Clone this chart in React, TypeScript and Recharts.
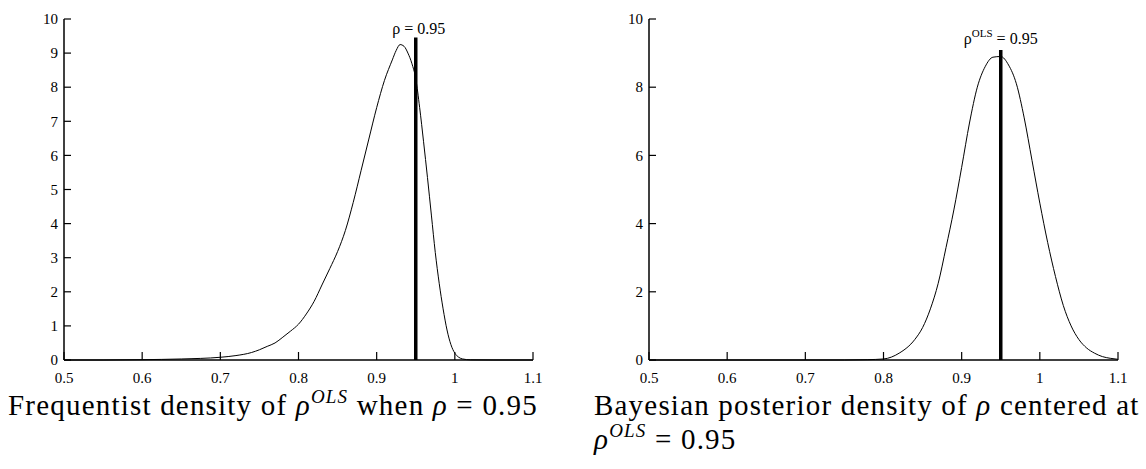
import React from 'react';
import { LineChart, Line, XAxis, YAxis, ReferenceLine } from 'recharts';

const xTicks = [0.5, 0.6, 0.7, 0.8, 0.9, 1, 1.1];
const freqYTicks = [0, 1, 2, 3, 4, 5, 6, 7, 8, 9, 10];
const postYTicks = [0, 2, 4, 6, 8, 10];

// frequentist density of rho^OLS when rho = 0.95
const freqRho = [
  0.5, 0.55, 0.6, 0.65, 0.7, 0.72, 0.74, 0.75, 0.76, 0.77, 0.78, 0.79, 0.8, 0.81, 0.82, 0.83,
  0.84, 0.85, 0.86, 0.87, 0.88, 0.89, 0.9, 0.91, 0.92, 0.925, 0.93, 0.935, 0.94, 0.945, 0.95,
  0.955, 0.96, 0.965, 0.97, 0.975, 0.98, 0.985, 0.99, 0.995, 1.0, 1.005, 1.01, 1.02, 1.05, 1.1,
];
const freqDensity = [
  0, 0, 0.01, 0.03, 0.08, 0.13, 0.22, 0.3, 0.4, 0.5, 0.67, 0.85, 1.05, 1.35, 1.72, 2.2,
  2.68, 3.18, 3.8, 4.62, 5.55, 6.48, 7.4, 8.2, 8.8, 9.08, 9.25, 9.2, 9.0, 8.7, 8.25,
  7.4, 6.4, 5.35, 4.25, 3.15, 2.25, 1.5, 0.88, 0.45, 0.2, 0.08, 0.03, 0.005, 0, 0,
];

// bayesian posterior density of rho centered at rho^OLS = 0.95
const postRho = [
  0.5, 0.6, 0.7, 0.75, 0.78, 0.8, 0.82, 0.84, 0.85, 0.86, 0.87, 0.88, 0.89, 0.9, 0.91, 0.92,
  0.93, 0.94, 0.95, 0.96, 0.97, 0.98, 0.99, 1.0, 1.01, 1.02, 1.03, 1.04, 1.05, 1.06, 1.07,
  1.08, 1.09, 1.1,
];
const postDensity = [
  0, 0, 0, 0, 0.01, 0.03, 0.2, 0.6, 0.95, 1.5, 2.25, 3.3, 4.4, 5.65, 6.95, 8.0,
  8.6, 8.88, 8.9, 8.65, 8.1, 7.1, 5.85, 4.6, 3.45, 2.45, 1.6, 1.0, 0.6, 0.35, 0.2,
  0.1, 0.05, 0.02,
];

const freqData = freqRho.map((rho, i) => ({ rho, density: freqDensity[i] }));
const postData = postRho.map((rho, i) => ({ rho, density: postDensity[i] }));

const serif = '"Liberation Serif", "Times New Roman", serif';

// ticks point inward, like the original plot
const XTick = (props: any) => {
  const { x, y, payload } = props;
  return (
    <g>
      <line x1={x} y1={y} x2={x} y2={y - 8} stroke="#000" strokeWidth={1.2} />
      <text x={x} y={y + 23} textAnchor="middle" fontSize={15} fontFamily={serif} fill="#000">
        {payload.value}
      </text>
    </g>
  );
};

const YTick = (props: any) => {
  const { x, y, payload } = props;
  return (
    <g>
      <line x1={x} y1={y} x2={x + 7} y2={y} stroke="#000" strokeWidth={1.2} />
      <text x={x - 6} y={y} dy="0.35em" textAnchor="end" fontSize={15} fontFamily={serif} fill="#000">
        {payload.value}
      </text>
    </g>
  );
};

const RhoLabel = (props: any) => {
  const { x, y } = props.viewBox;
  return (
    <text x={x + 3} y={y - 3} textAnchor="middle" fontSize={16} fontFamily={serif} fill="#000">
      ρ = 0.95
    </text>
  );
};

const RhoOlsLabel = (props: any) => {
  const { x, y } = props.viewBox;
  return (
    <text x={x} y={y - 6} textAnchor="middle" fontSize={16} fontFamily={serif} fill="#000">
      <tspan>ρ</tspan>
      <tspan dy={-7} fontSize={11}>OLS</tspan>
      <tspan dy={7}> = 0.95</tspan>
    </text>
  );
};

const W = 553;
const H = 390;
const margin = { top: 19, right: 20, bottom: 0, left: 20 };

const axisLine = { stroke: '#000', strokeWidth: 1.5 };

const captionStyle: React.CSSProperties = {
  position: 'absolute',
  fontFamily: serif,
  fontSize: 29,
  letterSpacing: 1.2,
  lineHeight: '34px',
  color: '#000',
  whiteSpace: 'nowrap',
};

const supStyle: React.CSSProperties = { fontSize: 19, fontStyle: 'italic', verticalAlign: 12, lineHeight: 0 };

const App = () => {
  return (
    <div style={{ position: 'absolute', left: 0, top: 0, width: 1146, height: 469, background: '#fff', overflow: 'hidden' }}>
      <div style={{ position: 'absolute', left: 0, top: 0 }}>
        <LineChart width={W} height={H} data={freqData} margin={margin}>
          <XAxis
            dataKey="rho"
            type="number"
            domain={[0.5, 1.1]}
            ticks={xTicks}
            height={30}
            tickSize={0}
            tickMargin={0}
            tick={<XTick />}
            axisLine={axisLine}
            interval={0}
          />
          <YAxis
            type="number"
            domain={[0, 10]}
            ticks={freqYTicks}
            width={44}
            tickSize={0}
            tickMargin={0}
            tick={<YTick />}
            axisLine={axisLine}
            interval={0}
          />
          <Line
            dataKey="density"
            type="monotone"
            stroke="#000"
            strokeWidth={1}
            dot={false}
            isAnimationActive={false}
          />
          <ReferenceLine
            segment={[{ x: 0.95, y: 0 }, { x: 0.95, y: 9.46 }]}
            stroke="#000"
            strokeWidth={3.5}
            label={<RhoLabel />}
          />
        </LineChart>
      </div>
      <div style={{ position: 'absolute', left: 585, top: 0 }}>
        <LineChart width={W} height={H} data={postData} margin={margin}>
          <XAxis
            dataKey="rho"
            type="number"
            domain={[0.5, 1.1]}
            ticks={xTicks}
            height={30}
            tickSize={0}
            tickMargin={0}
            tick={<XTick />}
            axisLine={axisLine}
            interval={0}
          />
          <YAxis
            type="number"
            domain={[0, 10]}
            ticks={postYTicks}
            width={44}
            tickSize={0}
            tickMargin={0}
            tick={<YTick />}
            axisLine={axisLine}
            interval={0}
          />
          <Line
            dataKey="density"
            type="monotone"
            stroke="#000"
            strokeWidth={1}
            dot={false}
            isAnimationActive={false}
          />
          <ReferenceLine
            segment={[{ x: 0.95, y: 0 }, { x: 0.95, y: 9.09 }]}
            stroke="#000"
            strokeWidth={3.5}
            label={<RhoOlsLabel />}
          />
        </LineChart>
      </div>
      <div style={{ ...captionStyle, left: 8, top: 388 }}>
        Frequentist density of <i>ρ</i><span style={supStyle}>OLS</span> when <i>ρ</i> = 0.95
      </div>
      <div style={{ ...captionStyle, left: 594, top: 388 }}>
        Bayesian posterior density of <i>ρ</i> centered at
        <br />
        <i>ρ</i><span style={supStyle}>OLS</span> = 0.95
      </div>
    </div>
  );
};

export default App;
